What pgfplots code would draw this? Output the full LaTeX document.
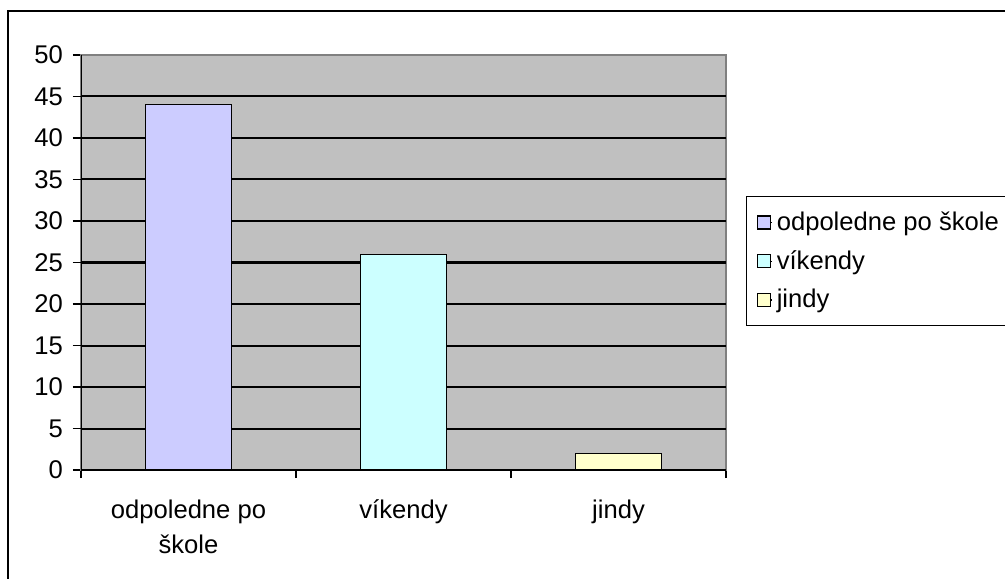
\documentclass[border=0pt]{standalone}
\usepackage{fontspec}
\setmainfont{Liberation Sans}
\usepackage{pgfplots}
\pgfplotsset{compat=1.18}
\definecolor{plotbg}{HTML}{C0C0C0}
\definecolor{frameg}{HTML}{808080}
\definecolor{barA}{HTML}{CCCCFF}
\definecolor{barB}{HTML}{CCFFFF}
\definecolor{barC}{HTML}{FFFFCC}
\begin{document}
\begin{tikzpicture}[x=0.5pt,y=0.5pt]
\useasboundingbox (0,0) rectangle (1005,578);
\fill[white] (0,0) rectangle (1005,578);
\draw[line width=1pt,black] (8,-5) -- (8,567) -- (1010,567);
\begin{axis}[
  at={(40.5pt,54pt)}, anchor=south west,
  scale only axis, width=322.5pt, height=207.5pt,
  font=\fontsize{12.8}{17.5}\selectfont,
  /pgf/number format/assume math mode=true,
  ybar, bar width=43pt,
  xmin=-0.5, xmax=2.5, ymin=0, ymax=50,
  axis background/.style={fill=plotbg},
  axis line style={draw=frameg, line width=0.6pt},
  tick align=outside, major tick length=4pt,
  xtick pos=left, ytick pos=left,
  tick style={black, line width=0.9pt},
  ytick={0,5,...,50},
  yticklabel style={xshift=-1.5pt},
  extra y ticks={5,10,...,45},
  extra y tick labels={},
  extra y tick style={ymajorgrids=true, major grid style={black, line width=1pt}},
  xtick={-0.5,0.5,1.5,2.5},
  xticklabels={},
  extra x ticks={0,1,2},
  extra x tick labels={odpoledne po\\škole, víkendy, jindy},
  extra x tick style={major tick length=0pt, xticklabel style={align=center, yshift=-11.5pt}},
  legend style={at={(1.031,0.66)}, anchor=north west, draw=black, line width=0.6pt,
     font=\fontsize{12.8}{15}\selectfont, row sep=4.5pt, inner xsep=5pt, inner ysep=5.5pt},
  legend cell align=left,
  legend image code/.code={\path (0pt,0pt) -- (7.5pt,0pt);\draw[#1, line width=0.6pt] (0pt,-3.25pt) rectangle (6.5pt,3.25pt);},
]
\addplot[fill=barA, draw=black, line width=0.6pt, bar shift=0pt] coordinates {(0,44)};
\addplot[fill=barB, draw=black, line width=0.6pt, bar shift=0pt] coordinates {(1,26)};
\addplot[fill=barC, draw=black, line width=0.6pt, bar shift=0pt] coordinates {(2,2)};
\legend{odpoledne po škole, víkendy, jindy}
\draw[black, line width=0.9pt] (rel axis cs:0,0) -- (rel axis cs:0,1);
\draw[black, line width=0.9pt] (rel axis cs:0,0) -- (rel axis cs:1,0);
\end{axis}
\end{tikzpicture}
\end{document}
